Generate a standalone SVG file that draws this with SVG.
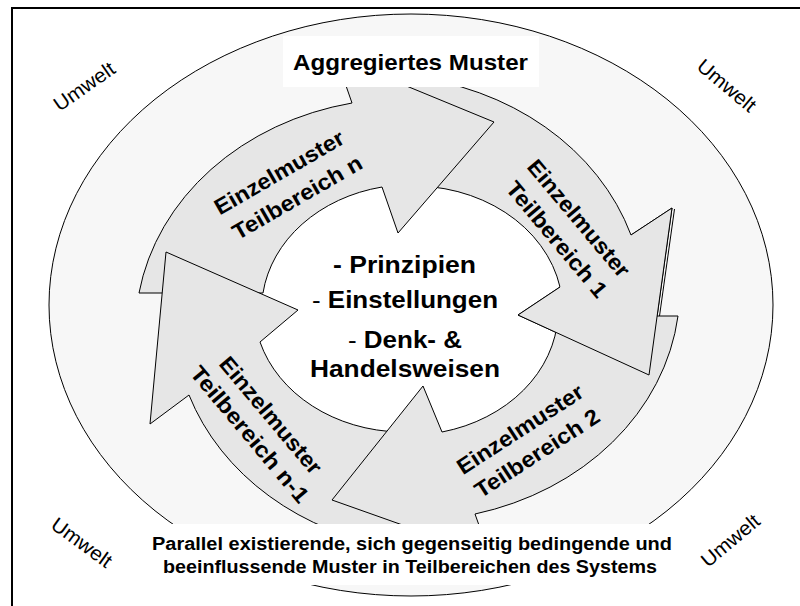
<svg xmlns="http://www.w3.org/2000/svg" width="800" height="606" viewBox="0 0 800 606">
<style>
.arrow{fill:#e6e6e6;stroke:#000;stroke-width:1;stroke-linejoin:miter}
.ln{fill:none;stroke:#000;stroke-width:1}
.lbl{font-family:"Liberation Sans",Arial,sans-serif;font-weight:bold;fill:#000;text-anchor:middle}
.env{font-family:"Liberation Sans",Arial,sans-serif;font-size:20px;fill:#000;text-anchor:middle}
</style>
<rect x="0" y="0" width="800" height="606" fill="#fff"/>
<g id="frame">
<line x1="11" y1="8" x2="800" y2="8" stroke="#000" stroke-width="2"/>
<line x1="12" y1="7" x2="12" y2="606" stroke="#000" stroke-width="2"/>
</g>
<g id="environment">
<ellipse cx="411" cy="305" rx="362" ry="291" fill="#f7f7f7" stroke="#000" stroke-width="1"/>
<ellipse cx="410" cy="310" rx="165" ry="140" fill="#fff"/>
<text class="env" textLength="70" lengthAdjust="spacingAndGlyphs" transform="translate(88.2,92) rotate(-35)">Umwelt</text>
<text class="env" textLength="70" lengthAdjust="spacingAndGlyphs" transform="translate(722.3,90.7) rotate(40)">Umwelt</text>
<text class="env" textLength="70" lengthAdjust="spacingAndGlyphs" transform="translate(77.7,548) rotate(36)">Umwelt</text>
<text class="env" textLength="70" lengthAdjust="spacingAndGlyphs" transform="translate(734.7,545.7) rotate(-40)">Umwelt</text>
</g>
<g id="connectors">
<path id="arrow-1" class="arrow" d="M405,76 A270,232 0 0 1 631,235 L672,208 L649,375 L518,315 L560,287 A150,125 0 0 0 405,186 Z"/>
<path id="arrow-n" class="arrow" d="M139,293 A270,232 0 0 1 352,103 L336,57 L494,122 L398,233 L382,187 A150,125 0 0 0 263,293 Z"/>
<path id="arrow-n1" class="arrow" d="M398,548 A270,232 0 0 1 189,395 L150,424 L166,252 L298,310 L260,342 A150,125 0 0 0 400,432 Z"/>
<path id="arrow-2" class="arrow" d="M678,316 A270,232 0 0 1 475,514 L490,556 L332,500 L423,386 L442,432 A150,125 0 0 0 558,316 Z"/>
<polygon points="631,235 672,208 649,375 518,315 560,287" fill="#e6e6e6"/>
<polyline class="ln" points="631,235 672,208 649,375 518,315 560,287"/>
<line class="ln" x1="674.5" y1="209" x2="659.5" y2="316"/>
</g>
<g id="label-n">
<text class="lbl" font-size="22" textLength="146" lengthAdjust="spacingAndGlyphs" transform="translate(283,179) rotate(-30)">Einzelmuster</text>
<text class="lbl" font-size="22" textLength="146" lengthAdjust="spacingAndGlyphs" transform="translate(301,204) rotate(-30)">Teilbereich n</text>
</g>
<g id="label-1">
<text class="lbl" font-size="22" textLength="146" lengthAdjust="spacingAndGlyphs" transform="translate(573,223.2) rotate(50)">Einzelmuster</text>
<text class="lbl" font-size="22" textLength="144" lengthAdjust="spacingAndGlyphs" transform="translate(551,244.2) rotate(50)">Teilbereich 1</text>
</g>
<g id="label-n1">
<text class="lbl" font-size="22" textLength="146" lengthAdjust="spacingAndGlyphs" transform="translate(265,420.2) rotate(50)">Einzelmuster</text>
<text class="lbl" font-size="22" textLength="171" lengthAdjust="spacingAndGlyphs" transform="translate(244,439.2) rotate(50)">Teilbereich n-1</text>
</g>
<g id="label-2">
<text class="lbl" font-size="22" textLength="146" lengthAdjust="spacingAndGlyphs" transform="translate(524.2,435.6) rotate(-33)">Einzelmuster</text>
<text class="lbl" font-size="22" textLength="144" lengthAdjust="spacingAndGlyphs" transform="translate(541.2,459.6) rotate(-33)">Teilbereich 2</text>
</g>
<g id="center">
<text class="lbl" font-size="24" x="404.5" y="273" textLength="143" lengthAdjust="spacingAndGlyphs">- Prinzipien</text>
<text class="lbl" font-size="24" x="405" y="308" textLength="186" lengthAdjust="spacingAndGlyphs"><tspan font-weight="normal">-</tspan> Einstellungen</text>
<text class="lbl" font-size="24" x="405" y="348" textLength="114" lengthAdjust="spacingAndGlyphs"><tspan font-weight="normal">-</tspan> Denk- &amp;</text>
<text class="lbl" font-size="24" x="405" y="377" textLength="190" lengthAdjust="spacingAndGlyphs">Handelsweisen</text>
</g>
<g id="aggregate">
<rect x="283" y="36" width="256" height="51" fill="#fff"/>
<text class="lbl" font-size="22" x="410.5" y="70" textLength="235" lengthAdjust="spacingAndGlyphs">Aggregiertes Muster</text>
</g>
<g id="caption">
<rect x="140" y="524" width="540" height="61" fill="#fff"/>
<text class="lbl" font-size="18" x="412" y="550" textLength="520" lengthAdjust="spacingAndGlyphs">Parallel existierende, sich gegenseitig bedingende und</text>
<text class="lbl" font-size="18" x="410" y="573" textLength="494" lengthAdjust="spacingAndGlyphs">beeinflussende Muster in Teilbereichen des Systems</text>
</g>
</svg>
